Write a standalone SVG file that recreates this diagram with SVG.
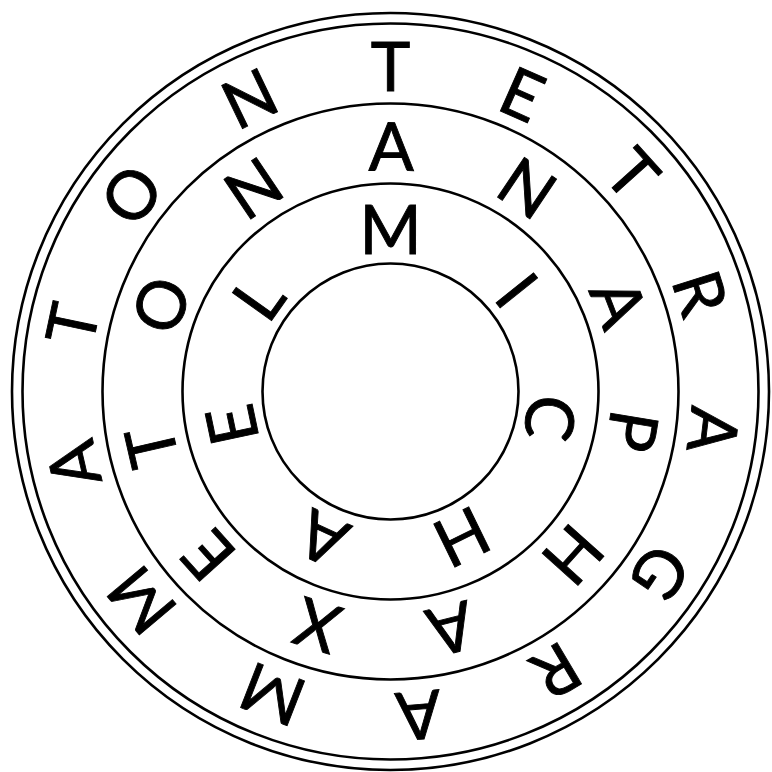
<svg xmlns="http://www.w3.org/2000/svg" width="772" height="772" viewBox="0 0 772 772">
<style>
.ring{fill:none;stroke:#000;stroke-width:2.6}
.l{font-family:Lato,"Liberation Sans",sans-serif;font-size:67px;fill:#000;stroke:#000;stroke-width:0.9;text-anchor:middle}
</style>
<rect width="772" height="772" fill="#fff"/>
<g id="circles" transform="translate(390.5 391.5)">
<circle class="ring" r="378.5"/>
<circle class="ring" r="368"/>
<circle class="ring" r="288"/>
<circle class="ring" r="208"/>
<circle class="ring" r="128"/>
</g>
<g id="outer-ring" transform="translate(390.5 391.5)">
<text class="l" transform="rotate(0) translate(0 -325)" y="24">T</text>
<text class="l" transform="rotate(23.9) translate(0 -325)" y="24">E</text>
<text class="l" transform="rotate(48) translate(0 -325)" y="24">T</text>
<text class="l" transform="rotate(72.4) translate(0 -325)" y="24">R</text>
<text class="l" transform="rotate(96.8) translate(0 -325)" y="24">A</text>
<text class="l" transform="rotate(123.9) translate(0 -325)" y="24">G</text>
<text class="l" transform="rotate(149.3) translate(0 -325)" y="24">R</text>
<text class="l" transform="rotate(175) translate(0 -325)" y="24">A</text>
<text class="l" transform="rotate(201.3) translate(0 -325)" y="24">M</text>
<text class="l" transform="rotate(230) translate(0 -325)" y="24">M</text>
<text class="l" transform="rotate(257) translate(0 -325)" y="24">A</text>
<text class="l" transform="rotate(282) translate(0 -325)" y="24">T</text>
<text class="l" transform="rotate(307.2) translate(0 -325)" y="24">O</text>
<text class="l" transform="rotate(334.3) translate(0 -325)" y="24">N</text>
</g>
<g id="middle-ring" transform="translate(390.5 391.5)">
<text class="l" transform="rotate(0.2) translate(0 -245)" y="24">A</text>
<text class="l" transform="rotate(33.9) translate(0 -245)" y="24">N</text>
<text class="l" transform="rotate(68.8) translate(0 -245)" y="24">A</text>
<text class="l" transform="rotate(99.3) translate(0 -245)" y="24">P</text>
<text class="l" transform="rotate(131.8) translate(0 -245)" y="24">H</text>
<text class="l" transform="rotate(165.7) translate(0 -245)" y="24">A</text>
<text class="l" transform="rotate(197.4) translate(0 -245)" y="24">X</text>
<text class="l" transform="rotate(228) translate(0 -245)" y="24">E</text>
<text class="l" transform="rotate(257) translate(0 -245)" y="24">T</text>
<text class="l" transform="rotate(290.7) translate(0 -245)" y="24">O</text>
<text class="l" transform="rotate(326) translate(0 -245)" y="24">N</text>
</g>
<g id="inner-ring" transform="translate(390.5 391.5)">
<text class="l" transform="rotate(0) translate(0 -162)" y="24">M</text>
<text class="l" transform="rotate(51.3) translate(0 -162)" y="24">I</text>
<text class="l" transform="rotate(99.4) translate(0 -162)" y="24">C</text>
<text class="l" transform="rotate(153.9) translate(0 -162)" y="24">H</text>
<text class="l" transform="rotate(204.8) translate(0 -162)" y="24">A</text>
<text class="l" transform="rotate(258.1) translate(0 -162)" y="24">E</text>
<text class="l" transform="rotate(305.4) translate(0 -162)" y="24">L</text>
</g>
</svg>
